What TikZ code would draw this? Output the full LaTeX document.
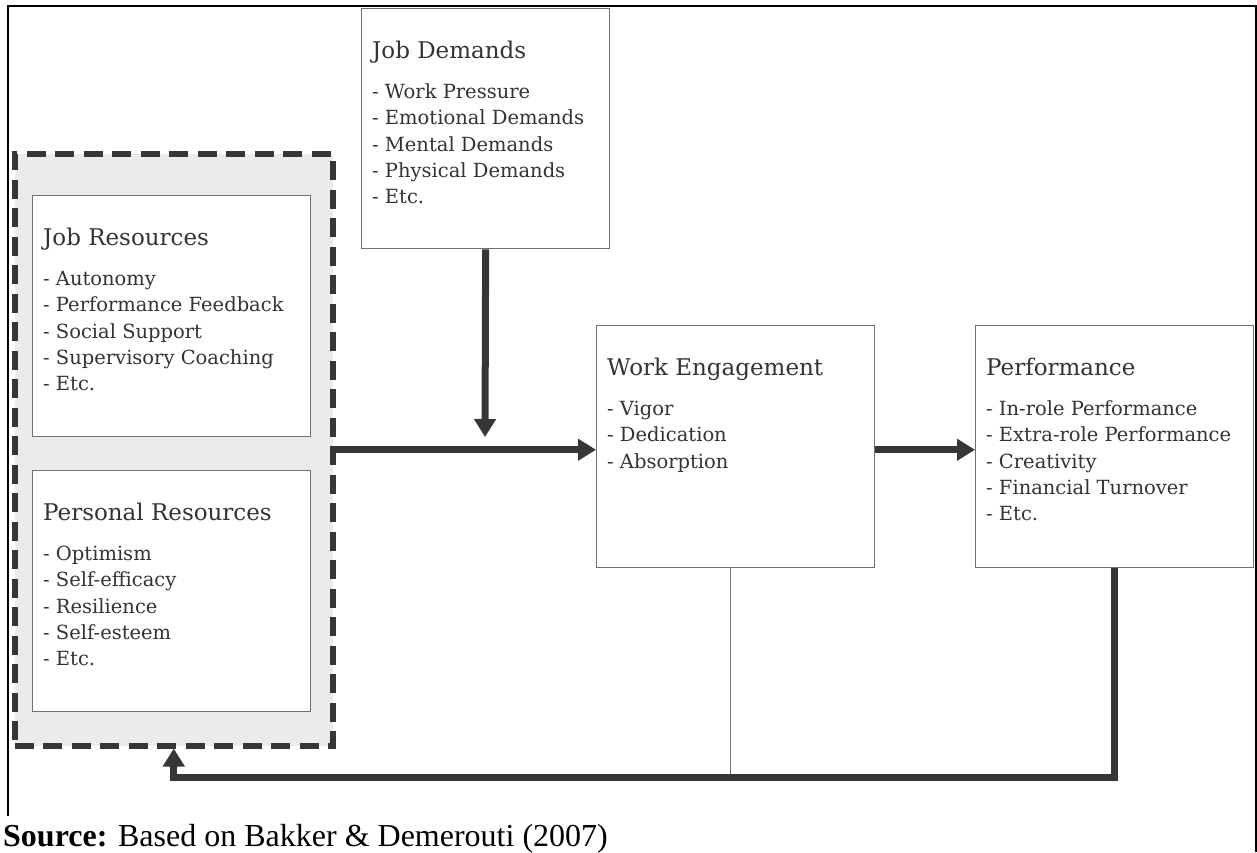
\documentclass[tikz,border=0pt]{standalone}
\usepackage{fontspec}
\setmainfont{DejaVu Serif}
\newfontfamily\srcfont{Liberation Serif}
\usetikzlibrary{arrows.meta}
\definecolor{txt}{HTML}{333333}
\definecolor{edge}{HTML}{707070}
\definecolor{dark}{HTML}{363636}
\definecolor{shade}{HTML}{EBEBEB}
\tikzset{
  box/.style={draw=edge, line width=1.3pt, fill=white, anchor=north west, inner sep=0pt,
    minimum width=#1},
  box/.default=278pt,
  head/.style={font=\fontsize{23}{27}\selectfont, text=txt, anchor=base west, inner sep=0pt},
  item/.style={font=\fontsize{19.5}{26}\selectfont, text=txt, anchor=base west, inner sep=0pt},
  thickarrow/.style={draw=dark, line width=7pt, -{Triangle[length=18pt,width=21pt]}},
  thickline/.style={draw=dark, line width=7pt},
  thinline/.style={draw=edge, line width=1.5pt},
  resgroup/.style={draw=dark, fill=shade, line width=5.5pt, dash pattern=on 19pt off 9.5pt,
    anchor=north west, inner sep=0pt, minimum width=318pt, minimum height=592pt},
}
\newcommand\fillbox[3]{%
  \node[head] (#1-h) at ([shift={(11,50.5)}]#1.north west) {#2};
  \foreach \t [count=\i] in {#3} {
    \node[item] (#1-\i) at ([shift={(11,{90.5+(\i-1)*26.3})}]#1.north west) {\t};
  }%
}
\begin{document}
\begin{tikzpicture}[x=1pt,y=-1pt]
\useasboundingbox (0,0) rectangle (1257,852);
% outer frame
\draw[line width=2pt, black] (8,816) -- (8,6) -- (1255.5,6) -- (1255.5,852);
% resources group
\node[resgroup] (res) at (12,151) {};
\node[box, minimum height=241pt] (jr) at (32,195) {};
\node[box, minimum height=241pt] (pr) at (32,470) {};
% other boxes
\node[box=248pt, minimum height=240pt] (jd) at (361,8) {};
\node[box, minimum height=242pt] (we) at (596,325) {};
\node[box, minimum height=242pt] (perf) at (975,325) {};
% texts
\fillbox{jd}{Job Demands}{- Work Pressure,- Emotional Demands,- Mental Demands,- Physical Demands,- Etc.}
\fillbox{jr}{Job Resources}{- Autonomy,- Performance Feedback,- Social Support,- Supervisory Coaching,- Etc.}
\fillbox{pr}{Personal Resources}{- Optimism,- Self-efficacy,- Resilience,- Self-esteem,- Etc.}
\fillbox{we}{Work Engagement}{- Vigor,- Dedication,- Absorption}
\fillbox{perf}{Performance}{- In-role Performance,- Extra-role Performance,- Creativity,- Financial Turnover,- Etc.}
% connectors
\coordinate (jdtip) at (485,437);
\coordinate (fb) at (0,777);
\draw[thickarrow] (res.east) -- (res.east -| we.west);
\draw[thickarrow] (jd.south) -- (jdtip);
\draw[thickarrow] (we.east |- res.east) -- (perf.west |- res.east);
\draw[thinline] ([xshift=-5pt]we.south) -- ([xshift=-5pt]we.south |- fb);
\draw[thickline] (perf.south) -- (perf.south |- fb) -- (res.south |- fb);
\draw[thickarrow] ([yshift=-3.5pt]res.south |- fb) -- (res.south);
% source
\node[font=\srcfont\fontsize{32}{36}\selectfont, anchor=base west, inner sep=0pt] (src) at (3,846) {\textbf{Source:} Based on Bakker \& Demerouti (2007)};
\end{tikzpicture}
\end{document}
